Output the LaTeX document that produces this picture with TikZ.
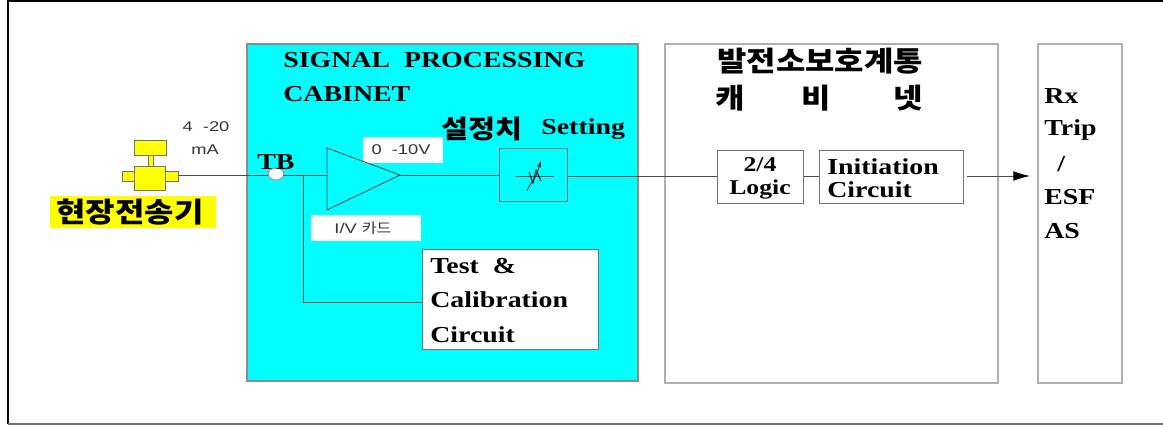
\documentclass[tikz,border=0pt]{standalone}
\usepackage{fontspec}
\setmainfont{Liberation Serif}
\setsansfont[FakeStretch=1.3]{Liberation Sans}
\newfontfamily\wideserif[FakeStretch=1.22]{Liberation Serif}
\newfontfamily\cjk[FakeStretch=1.15]{Noto Sans CJK KR}
\usepackage{tikz}
\usetikzlibrary{arrows.meta, shapes.geometric}
\definecolor{cabinetcyan}{RGB}{0,255,255}
\definecolor{fieldyellow}{RGB}{255,255,0}
\definecolor{panelgray}{RGB}{175,175,175}
\tikzset{
    wire/.style={black!70, line width=0.5pt},
    blockbox/.style={draw=black!55, line width=0.5pt, inner sep=0pt},
    panel/.style={draw=panelgray, line width=0.9pt},
    boldlabel/.style={font=\fontsize{13}{13}\selectfont\wideserif\bfseries, inner sep=0pt, align=left},
    hangul/.style={font=\fontsize{15.8}{17}\selectfont\cjk\bfseries, inner sep=0pt},
    smalllabel/.style={font=\fontsize{8}{9}\selectfont\sffamily, inner sep=0pt, black!80},
    whitetag/.style={fill=white, inner sep=0pt},
    device/.style={draw=black!55, fill=fieldyellow, line width=0.5pt}
}
\begin{document}
\begin{tikzpicture}[x=0.02cm, y=-0.02cm]
    \useasboundingbox (0,0) rectangle (1163,425);
    \draw[black, line width=1.1pt] (8,424) -- (8,1) -- (1163,1);
    \draw[black!55, line width=0.8pt] (8,424) -- (1163,424);
    % Below are the three panels.
        \draw[fill=cabinetcyan, draw=black!45, line width=0.6pt] (247,44) rectangle (638,381);
        \draw[panel] (665,44) rectangle (998,383);
        \draw[panel] (1038,44) rectangle (1122,383);
    % White tags and blocks.
        \node[whitetag, minimum width=46pt, minimum height=15pt] (rangetag) at (403,150) {};
        \node[whitetag, minimum width=63pt, minimum height=15pt] (cardtag) at (366,228) {};
        \node[blockbox, fill=white, minimum width=100.4pt, minimum height=57.3pt] (testbox) at (510.5,299.5) {};
        \node[blockbox, minimum width=39pt, minimum height=30.6pt] (settingbox) at (533.5,175) {};
        \node[blockbox, fill=white, minimum width=49.3pt, minimum height=30.6pt] (logicbox) at (760.5,177) {};
        \node[blockbox, fill=white, minimum width=82.2pt, minimum height=30.6pt] (initbox) at (891.5,177) {};
    % This draws the amplifier.
        \coordinate (ampin) at (327,175);
        \coordinate (amptip) at (400,175);
        \draw[wire] (327,148) -- (amptip) -- (327,210) -- cycle;
    % This draws the transmitter.
        \draw[device] (122,171) rectangle (178,181);
        \draw[device] (148,155) rectangle (153,166);
        \draw[device] (134,140) rectangle (166,155);
        \node[device, inner sep=0pt, minimum width=18pt, minimum height=14pt] (transmitter) at (150,178.5) {};
    % Connectors.
        \coordinate (branch) at (303,175);
        \coordinate (xmtend) at (178,175);
        \coordinate (testin) at (422,302);
        \coordinate (logicin) at (717,176);
        \coordinate (logicout) at (804,176);
        \coordinate (initin) at (819,176);
        \coordinate (initout) at (967,176);
        \coordinate (settingout) at (568,176);
        \coordinate (tripin) at (1030,176);
        \draw[wire] (xmtend) -- (ampin);
        \draw[wire] (branch) |- (testin);
        \draw[wire] (amptip) -- (settingbox.west);
        \draw[wire] (settingout) -- (logicin);
        \draw[wire] (logicout) -- (initin);
        \draw[wire, -{Latex[length=9.5pt, width=5.5pt, black]}] (initout) -- (tripin);
        \node[draw=black!50, fill=white, ellipse, minimum width=9pt, minimum height=6.8pt, inner sep=0pt, line width=0.4pt] (tbpoint) at (276,174) {};
    % This draws the setting symbol.
        \draw[wire, line width=0.4pt] (516,176) -- (554,176);
        \draw[black!80, line width=0.5pt, -{Latex[length=4pt, width=2.5pt]}] (527,191) .. controls (531,180) and (535,182) .. (541,160);
        \draw[black, line width=0.5pt] (529,172) -- (533,183) -- (536,170) -- (541,181);
    % Below nodes are the labels.
        \node[fill=fieldyellow, inner sep=0pt, minimum width=94pt, minimum height=18pt] (fieldtag) at (133,212) {};
        \node[hangul] (fieldlabel) at (130,212) {현장전송기};
        \node[smalllabel] (mafour) at (206,127) {4 \ -20};
        \node[smalllabel] (maunit) at (205,150) {mA};
        \node[boldlabel, anchor=west] (tblabel) at (257,162) {TB};
        \node[boldlabel, anchor=west] (sigone) at (283,60) {SIGNAL\ \ PROCESSING};
        \node[boldlabel, anchor=west] (sigtwo) at (283,94) {CABINET};
        \node[hangul, anchor=west, font=\fontsize{14.5}{16}\selectfont\cjk\bfseries] (setkr) at (441,129) {설정치};
        \node[boldlabel, anchor=west] (seten) at (541,129) {Setting};
        \node[smalllabel] (rangelabel) at (401,150) {0 \ -10V};
        \node[smalllabel] (cardlabel) at (363,228) {I/V {\cjk 카드}};
        \node[boldlabel, anchor=west] (testone) at (430,266) {Test \ \&};
        \node[boldlabel, anchor=west] (testtwo) at (430,300) {Calibration};
        \node[boldlabel, anchor=west] (testthree) at (430,335) {Circuit};
        \node[hangul, anchor=west] (panelone) at (717,61) {발전소보호계통};
        \node[hangul] (paneltwoa) at (730,98) {캐};
        \node[hangul] (paneltwob) at (816,98) {비};
        \node[hangul] (paneltwoc) at (908,98) {넷};
        \node[boldlabel, align=center, font=\fontsize{12}{13}\selectfont\wideserif\bfseries] (logiclabel) at (760,178) {2/4\\Logic};
        \node[boldlabel, anchor=west] (initlabel) at (827,178) {Initiation\\Circuit};
        \node[boldlabel, anchor=west] (rxlabel) at (1044,96) {Rx};
        \node[boldlabel, anchor=west] (triplabel) at (1044,130) {Trip};
        \node[boldlabel, anchor=west] (slashlabel) at (1057,164) {/};
        \node[boldlabel, anchor=west] (esflabel) at (1044,197) {ESF};
        \node[boldlabel, anchor=west] (aslabel) at (1044,231) {AS};
\end{tikzpicture}
\end{document}
